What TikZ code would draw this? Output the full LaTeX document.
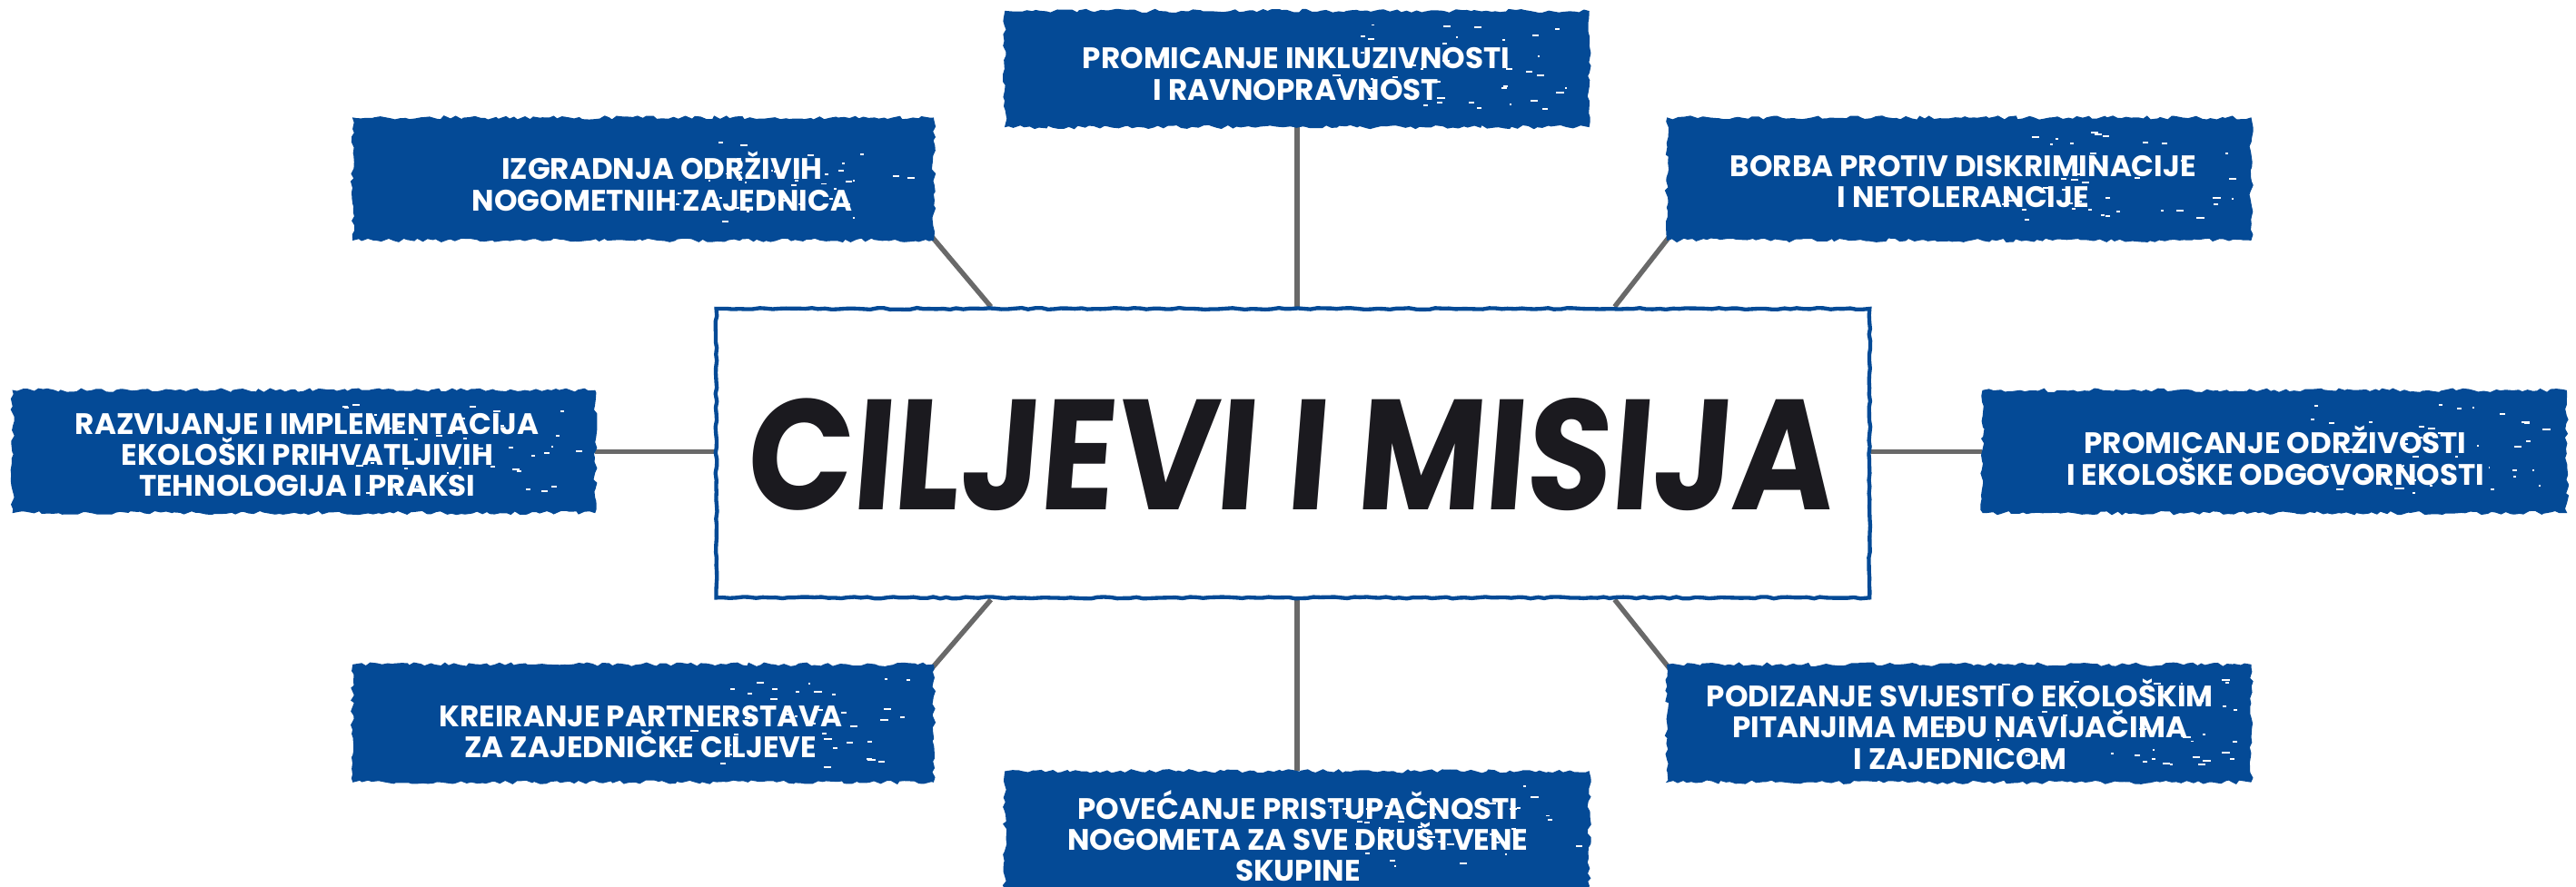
\documentclass[tikz,border=0pt]{standalone}
\usepackage{fontspec}
\newfontfamily\pop{Poppins}
\usetikzlibrary{decorations.pathmorphing,calc,backgrounds}
\definecolor{navy}{RGB}{4,74,150}
\definecolor{conngray}{RGB}{105,105,105}
\definecolor{ink}{RGB}{27,26,31}
\tikzset{
  bluebox/.style={fill=navy, draw=navy, line width=0.8pt, inner sep=0pt,
    decorate, decoration={random steps, segment length=3pt, amplitude=1.2pt}},
  boxtext/.style={text=white, align=center, inner sep=0pt,
    font=\pop\bfseries\fontsize{18}{19}\selectfont},
  conn/.style={draw=conngray, line width=3pt},
  centerbox/.style={draw=navy, line width=2.4pt, fill=white, inner sep=0pt,
    minimum width=702pt, minimum height=176pt,
    decorate, decoration={random steps, segment length=4pt, amplitude=0.5pt}},
  speck/.style={fill=white}
}
\newcommand\specks[1]{%
  \foreach \i in {1,...,40}{%
    \pgfmathsetmacro\sx{-8-rnd*150}%
    \pgfmathsetmacro\sy{8+rnd*55}%
    \pgfmathsetmacro\sw{1+rnd*4}%
    \fill[speck] ($(#1.north east)+(\sx,\sy)$) rectangle ++(\sw,1.1);
  }%
}
\begin{document}
\begin{tikzpicture}[x=1pt,y=-1pt]
\pgfmathsetseed{7}
\useasboundingbox (0,0) rectangle (1568,540);
% center box
\node[centerbox] (c) at (787,276) {};
\node[text=ink, xslant=0.08, inner sep=0pt] (title) at (787,277)
  {\resizebox{662pt}{68pt}{\pop\bfseries CILJEVI I MISIJA}};
% outer boxes
\node[bluebox, minimum width=355pt, minimum height=70pt] (tc) at (789.5,42) {};
\node[bluebox, minimum width=353pt, minimum height=74pt] (tl) at (391.5,109) {};
\node[bluebox, minimum width=355pt, minimum height=74pt] (tr) at (1192.5,109) {};
\node[bluebox, minimum width=354pt, minimum height=74pt] (l) at (185,275) {};
\node[bluebox, minimum width=355pt, minimum height=74pt] (r) at (1384.5,275) {};
\node[bluebox, minimum width=353pt, minimum height=71pt] (bl) at (391.5,440.5) {};
\node[bluebox, minimum width=355pt, minimum height=71pt] (br) at (1192.5,440.5) {};
\node[bluebox, minimum width=355pt, minimum height=76pt] (bc) at (789.5,508) {};
\specks{tc}\specks{tl}\specks{tr}\specks{l}\specks{r}\specks{bl}\specks{br}\specks{bc}
% texts
\node[boxtext] (tct) at (789,45) {PROMICANJE INKLUZIVNOSTI\\I RAVNOPRAVNOST};
\node[boxtext] (tlt) at (403,110.5) {IZGRADNJA ODRŽIVIH\\NOGOMETNIH ZAJEDNICA};
\node[boxtext] (trt) at (1195,110.5) {BORBA PROTIV DISKRIMINACIJE\\I NETOLERANCIJE};
\node[boxtext] (lt) at (187,277) {RAZVIJANJE I IMPLEMENTACIJA\\EKOLOŠKI PRIHVATLJIVIH\\TEHNOLOGIJA I PRAKSI};
\node[boxtext] (rt) at (1385,277.5) {PROMICANJE ODRŽIVOSTI\\I EKOLOŠKE ODGOVORNOSTI};
\node[boxtext] (blt) at (390,445.5) {KREIRANJE PARTNERSTAVA\\ZA ZAJEDNIČKE CILJEVE};
\node[boxtext] (brt) at (1193,441) {PODIZANJE SVIJESTI O EKOLOŠKIM\\PITANJIMA MEĐU NAVIJAČIMA\\I ZAJEDNICOM};
\node[boxtext] (bct) at (790,509) {POVEĆANJE PRISTUPAČNOSTI\\NOGOMETA ZA SVE DRUŠTVENE\\SKUPINE};
% connectors
\begin{scope}[on background layer]
\draw[conn] (tc.south) -- (c.north -| tc.south);
\draw[conn] (bc.north) -- (c.south -| bc.north);
\draw[conn] (l.east) -- (c.west |- l.east);
\draw[conn] (r.west) -- (c.east |- r.west);
\draw[conn] ($(tl.south east)+(-6,-8)$) -- ($(c.north west)!0.239!(c.north east)$);
\draw[conn] ($(tr.south west)+(6,-8)$) -- ($(c.north west)!0.778!(c.north east)$);
\draw[conn] ($(bl.north east)+(-6,8)$) -- ($(c.south west)!0.239!(c.south east)$);
\draw[conn] ($(br.north west)+(6,8)$) -- ($(c.south west)!0.778!(c.south east)$);
\end{scope}
\end{tikzpicture}
\end{document}
